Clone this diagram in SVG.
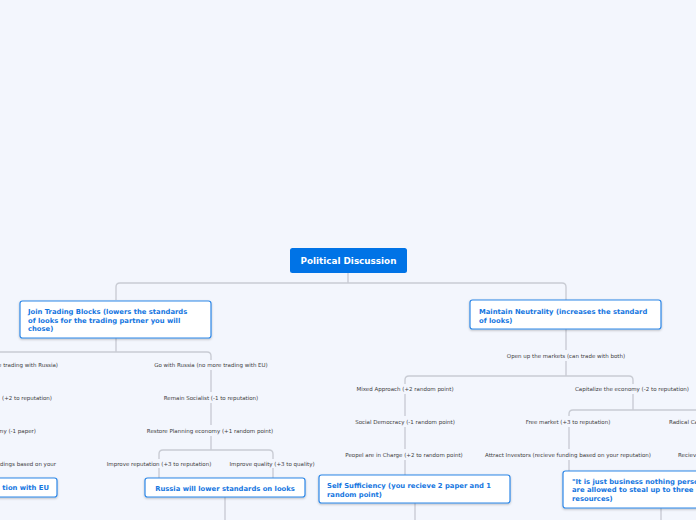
<svg xmlns="http://www.w3.org/2000/svg" width="696" height="520" viewBox="0 0 696 520">
<defs>
<filter id="sh" x="-10%" y="-20%" width="120%" height="150%"><feDropShadow dx="0" dy="1" stdDeviation="0.8" flood-color="#000" flood-opacity="0.25"/></filter>
</defs>
<style>
.bg{fill:#f3f6fd}
.con path{fill:none;stroke:#c9ccd4;stroke-width:1.4}
.box{fill:#fff;stroke:#2f88e8;stroke-width:1.2;filter:url(#sh)}
.nt{font-family:"DejaVu Sans",Verdana,sans-serif;font-weight:bold;font-size:6.8px;fill:#1576df}
.lt{font-family:"DejaVu Sans",Verdana,sans-serif;font-size:5.5px;fill:#3d3d3d;text-anchor:middle}
.rt{font-family:"DejaVu Sans",Verdana,sans-serif;font-weight:bold;font-size:8.8px;fill:#fff;text-anchor:middle}
</style>
<rect class="bg" x="0" y="0" width="696" height="520"/>
<g class="con" id="connectors">
<path d="M348,273 V283"/>
<path d="M116,300 V287 Q116,283 120,283 H562 Q566,283 566,287 V300"/>
<path d="M116,338 V352"/>
<path d="M-10,352 H207 Q211,352 211,356 V360"/>
<path d="M211,370 V392"/>
<path d="M211,403 V425"/>
<path d="M211,436 V450"/>
<path d="M159,459 V454 Q159,450 163,450 H269 Q273,450 273,454 V459"/>
<path d="M159,468 V478"/>
<path d="M273,468 V478"/>
<path d="M225,497 V520"/>
<path d="M566,329 V350"/>
<path d="M566,361 V376"/>
<path d="M405,384 V380 Q405,376 409,376 H629 Q633,376 633,380 V384"/>
<path d="M405,394 V416"/>
<path d="M405,427 V449"/>
<path d="M405,460 V475"/>
<path d="M415,503 V520"/>
<path d="M633,394 V410"/>
<path d="M569,416 V414 Q569,410 573,410 H700"/>
<path d="M569,427 V449"/>
<path d="M569,460 V471"/>
<path d="M661,508 V520"/>
</g>
<g id="root">
<rect x="290" y="248" width="117" height="25" rx="2.5" fill="#0073e6"/>
<text class="rt" x="348.5" y="264">Political Discussion</text>
</g>
<g id="join-trading-blocks">
<rect class="box" x="20" y="301" width="191" height="37" rx="2.5"/>
<text class="nt" x="28" y="313.5">Join Trading Blocks (lowers the standards</text>
<text class="nt" x="28" y="322.5">of looks for the trading partner you will</text>
<text class="nt" x="28" y="331">chose)</text>
</g>
<g id="maintain-neutrality">
<rect class="box" x="470" y="300" width="191" height="29" rx="2.5"/>
<text class="nt" x="479" y="313.5">Maintain Neutrality (increases the standard</text>
<text class="nt" x="479" y="322.5">of looks)</text>
</g>
<g id="go-with-eu"><text class="lt" x="58" y="367" style="text-anchor:end">Go with EU (no more trading with Russia)</text></g>
<g id="eu-rep"><text class="lt" x="52" y="400" style="text-anchor:end">(+2 to reputation)</text></g>
<g id="eu-paper"><text class="lt" x="36" y="433" style="text-anchor:end">my (-1 paper)</text></g>
<g id="eu-funding"><text class="lt" x="56" y="466" style="text-anchor:end">dings based on your</text></g>
<g id="eu-box">
<rect class="box" x="-10" y="478" width="67" height="19" rx="2.5"/>
<text class="nt" x="49" y="490" text-anchor="end">tion with EU</text>
</g>
<g id="go-with-russia"><text class="lt" x="211" y="367">Go with Russia (no more trading with EU)</text></g>
<g id="remain-socialist"><text class="lt" x="211" y="400">Remain Socialist (-1 to reputation)</text></g>
<g id="restore-planning"><text class="lt" x="210" y="433">Restore Planning economy (+1 random point)</text></g>
<g id="improve-reputation"><text class="lt" x="159" y="466">Improve reputation (+3 to reputation)</text></g>
<g id="improve-quality"><text class="lt" x="272" y="466">Improve quality (+3 to quality)</text></g>
<g id="russia-box">
<rect class="box" x="145" y="478" width="160" height="19" rx="2.5"/>
<text class="nt" x="225" y="490.5" text-anchor="middle">Russia will lower standards on looks</text>
</g>
<g id="open-markets"><text class="lt" x="566" y="358">Open up the markets (can trade with both)</text></g>
<g id="mixed-approach"><text class="lt" x="405" y="391">Mixed Approach (+2 random point)</text></g>
<g id="social-democracy"><text class="lt" x="405" y="424">Social Democracy (-1 random point)</text></g>
<g id="peopel-in-charge"><text class="lt" x="404" y="457">Peopel are in Charge (+2 to random point)</text></g>
<g id="self-sufficiency">
<rect class="box" x="319" y="475" width="191" height="28" rx="2.5"/>
<text class="nt" x="327" y="487.5">Self Sufficiency (you recieve 2 paper and 1</text>
<text class="nt" x="327" y="496.5">random point)</text>
</g>
<g id="capitalize"><text class="lt" x="632" y="391">Capitalize the economy (-2 to reputation)</text></g>
<g id="free-market"><text class="lt" x="568" y="424">Free market (+3 to reputation)</text></g>
<g id="attract-investors"><text class="lt" x="568" y="457">Attract Investors (recieve funding based on your reputation)</text></g>
<g id="radical-capitalism"><text class="lt" x="669" y="424" style="text-anchor:start">Radical Capitalism</text></g>
<g id="recieve"><text class="lt" x="678" y="457" style="text-anchor:start">Recieve</text></g>
<g id="just-business">
<rect class="box" x="563" y="471" width="150" height="37" rx="2.5"/>
<text class="nt" x="572" y="483.5">"It is just business nothing personal" (you</text>
<text class="nt" x="572" y="492">are allowed to steal up to three</text>
<text class="nt" x="572" y="500.5">resources)</text>
</g>
</svg>
